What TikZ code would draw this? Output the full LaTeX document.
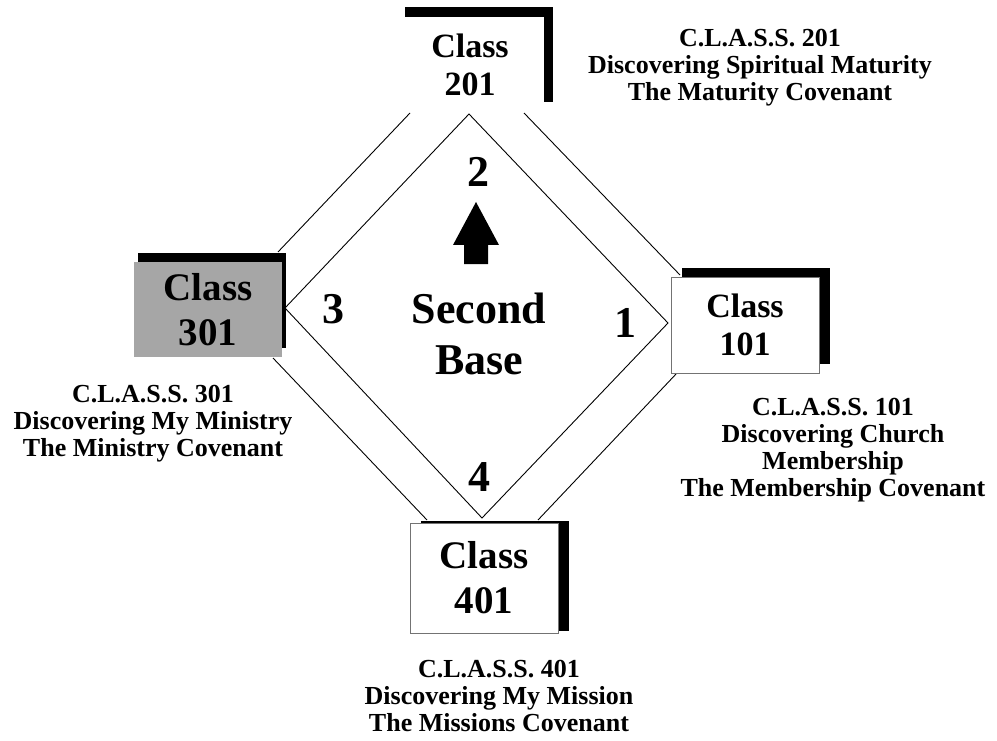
\documentclass[tikz,border=0pt]{standalone}
\usepackage{fontspec}
\setmainfont{Liberation Serif}
\usepackage{xcolor}
\definecolor{boxgray}{RGB}{166,166,166}
\usetikzlibrary{shadows}

\begin{document}
\begin{tikzpicture}[x=1pt, y=-1pt,
		classbox/.style={rectangle, inner sep=0pt, minimum width=148pt, align=center, fill=white},
		bigclass/.style={font=\bfseries\fontsize{39}{45}\selectfont},
		smallclass/.style={font=\bfseries\fontsize{34}{38}\selectfont},
		blackshadow/.style 2 args={drop shadow={shadow xshift=#1, shadow yshift=#2, fill=black, opacity=1}},
		classnote/.style={anchor=north, inner sep=0pt, align=center, font=\bfseries\fontsize{26}{27}\selectfont},
		basenum/.style={font=\bfseries\fontsize{44}{51}\selectfont},
		pathline/.style={line width=0.9pt}
	]
			\useasboundingbox (0,0) rectangle (997,741);
			\coordinate (in1) at (668,323);
			\coordinate (in2) at (469,114);
			\coordinate (in3) at (285,308);
			\coordinate (in4) at (482,518);
			\coordinate (o2l) at (410,113);
			\coordinate (o2r) at (524,113);
			\coordinate (o3t) at (278,252);
			\coordinate (o3b) at (273,358);
			\coordinate (o1t) at (680,275);
			\coordinate (o1b) at (677,373);
			\coordinate (o4l) at (427,520);
			\coordinate (o4r) at (538,520);
			\draw [pathline] (in1) -- (in2) -- (in3) -- (in4) -- cycle;
			\draw [pathline] (o2l) -- (o3t);
			\draw [pathline] (o2r) -- (o1t);
			\draw [pathline] (o3b) -- (o4l);
			\draw [pathline] (o1b) -- (o4r);
			\node [classbox, bigclass, fill=boxgray, minimum height=95pt, blackshadow={3.5pt}{9.5pt}] (class301) at (208,309.5) {Class\\301};
			\node [classbox, smallclass, draw=black!55, minimum height=96pt, blackshadow={10.5pt}{9.5pt}] (class101) at (745,325) {Class\\101};
			\node [classbox, bigclass, draw=black!55, minimum height=110pt, blackshadow={10.5pt}{2pt}] (class401) at (484,578) {Class\\401};
			\node [classbox, smallclass, minimum height=95pt, blackshadow={9pt}{10pt}] (class201) at (470,64.5) {Class\\201};
			\fill (476,202) -- (499,245) -- (488,245) -- (488,264) -- (464,264) -- (464,245) -- (453,245) -- cycle;
			\node [basenum] (n1) at (625,323) {1};
			\node [basenum] (n2) at (478,172) {2};
			\node [basenum] (n3) at (333,309) {3};
			\node [basenum] (n4) at (479,477) {4};
			\node [basenum, align=center] (secondbase) at (479,333.5) {Second\\Base};
			\node [classnote] (note201) at (760,29) {C.L.A.S.S. 201\\Discovering Spiritual Maturity\\The Maturity Covenant};
			\node [classnote] (note301) at (153,385) {C.L.A.S.S. 301\\Discovering My Ministry\\The Ministry Covenant};
			\node [classnote] (note101) at (833,398) {C.L.A.S.S. 101\\Discovering Church\\Membership\\The Membership Covenant};
			\node [classnote] (note401) at (499,660) {C.L.A.S.S. 401\\Discovering My Mission\\The Missions Covenant};
		\end{tikzpicture}
\end{document}
